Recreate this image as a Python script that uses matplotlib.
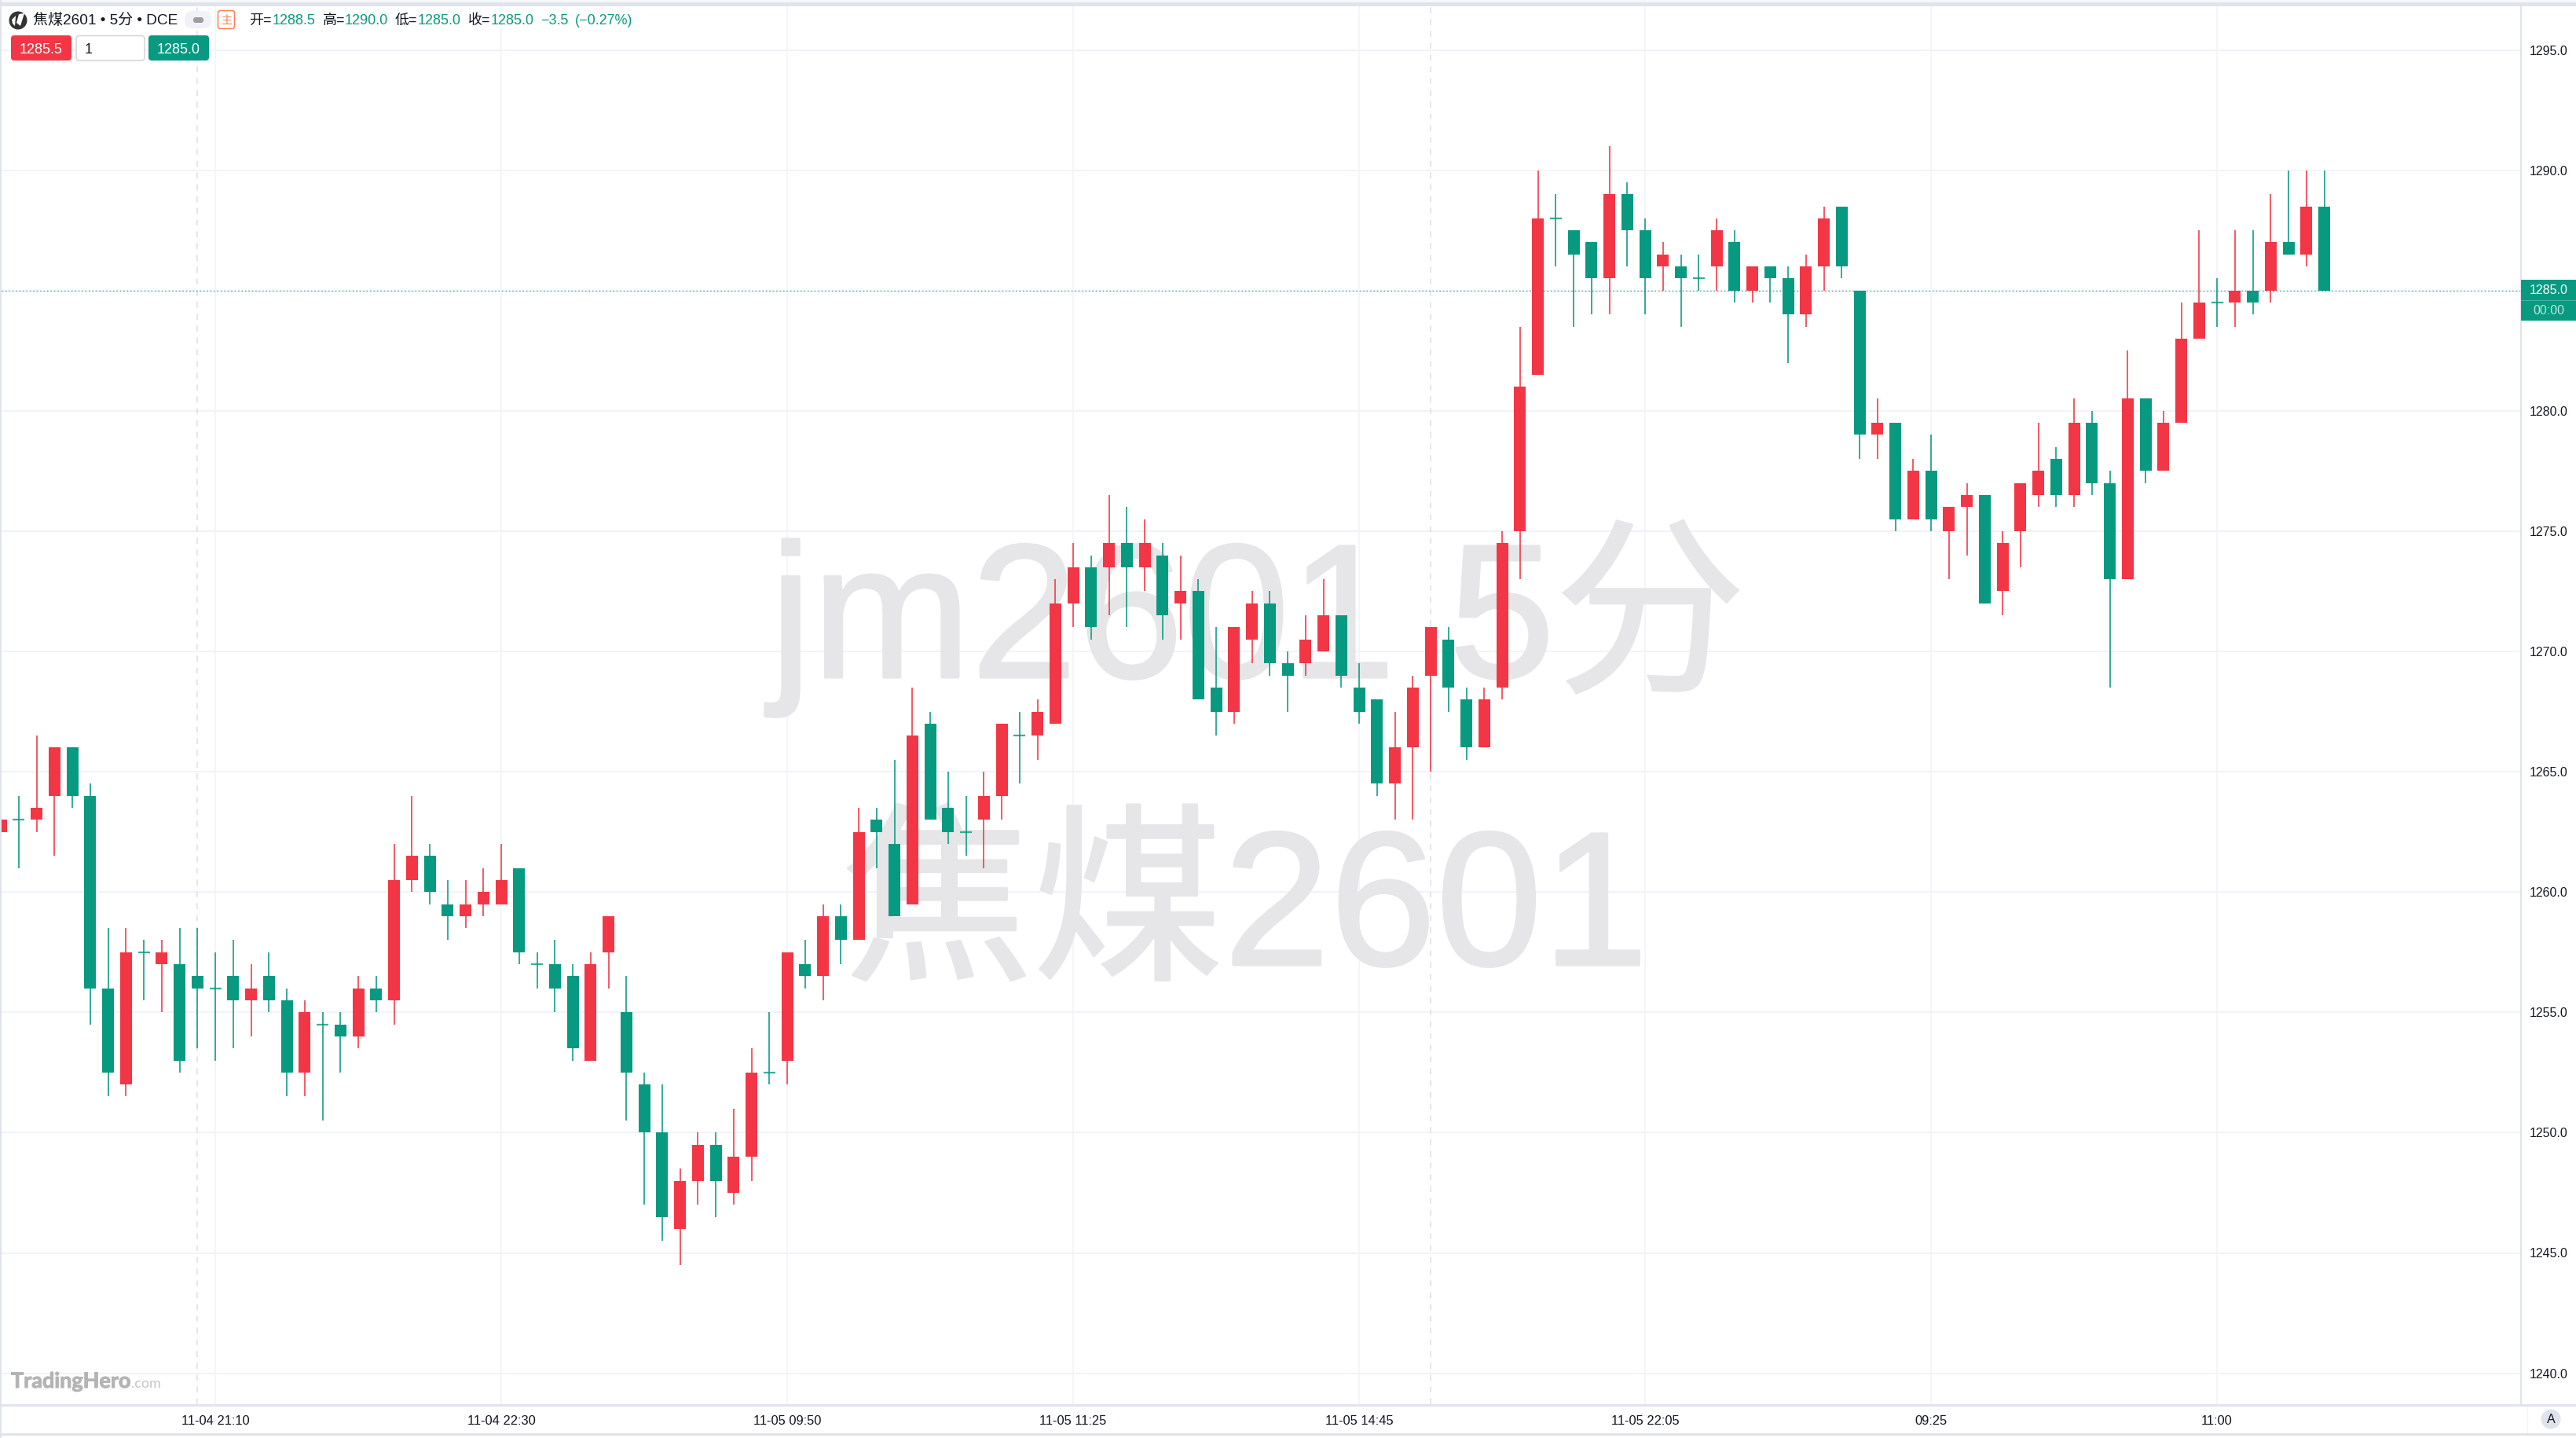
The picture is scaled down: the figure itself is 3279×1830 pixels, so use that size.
import matplotlib
matplotlib.use("Agg")
import matplotlib.pyplot as plt
import matplotlib.patheffects as pe
from matplotlib.patches import FancyBboxPatch, Rectangle, Circle, Polygon

W, H = 3279, 1830
DPI = 100
PT = 72 / DPI
RED = "#F23645"
GREEN = "#089981"
GRID = "#F0F3FA"
BORDER = "#E0E3EB"
TEXT = "#131722"
WM = "#E6E6E8"
FONTS = ["Liberation Sans", "Noto Sans CJK SC", "DejaVu Sans"]
plt.rcParams["font.family"] = FONTS
plt.rcParams["axes.unicode_minus"] = False

opens = [1262.5,1263,1263,1264,1266,1264,1256,1252,1257.5,1257,1257,1256.5,1256,1256.5,1255.5,1256.5,1255.5,1252.5,1254.5,1254.5,
         1254,1256,1255.5,1260.5,1261.5,1259.5,1259,1259.5,1259.5,1261,1257,1257,1256.5,1253,1257.5,1255,1252,1250,1246,1248,
         1249.5,1247.5,1249,1252.5,1253,1257,1256.5,1259,1258,1263,1262,1259.5,1267,1263.5,1262.5,1263,1264,1266.5,1266.5,1267,
         1272,1273.5,1273.5,1274.5,1273.5,1274,1272,1272.5,1268.5,1267.5,1270.5,1272,1269.5,1269.5,1270,1271.5,1268.5,1268,1264.5,1266,
         1269,1270.5,1268,1266,1268.5,1275,1281.5,1288,1287.5,1287,1285.5,1289,1287.5,1286,1286,1285.5,1286,1287,1285,1286,
         1285.5,1284,1286,1288.5,1285,1279,1279.5,1275.5,1277.5,1275,1276,1276.5,1272.5,1275,1276.5,1278,1276.5,1279.5,1277,1273,
         1280.5,1277.5,1279.5,1283,1284.5,1284.5,1285,1285,1287,1286.5,1288.5]
highs = [1263,1264,1266.5,1266,1266,1264.5,1258.5,1258.5,1258,1258,1258.5,1258.5,1257.5,1258,1257,1257.5,1256,1255.5,1255,1255,
         1256.5,1256.5,1262,1264,1262,1260.5,1260.5,1261,1262,1261,1257.5,1258,1257,1257.5,1259,1256.5,1252.5,1252,1248.5,1250,
         1250,1251,1253.5,1255,1257.5,1258,1259.5,1259.5,1263.5,1263.5,1265.5,1268.5,1267.5,1265,1264,1265,1267,1267.5,1268,1273,
         1274.5,1274,1276.5,1276,1275.5,1274.5,1274,1273,1271,1271,1272.5,1272.5,1270,1271.5,1273,1271.5,1269.5,1268,1267.5,1269,
         1271,1271,1268.5,1268.5,1275,1283.5,1290,1289,1287.5,1287,1291,1289.5,1288,1287,1286.5,1286.5,1288,1287.5,1286,1286,
         1286,1286.5,1288.5,1288.5,1285,1280.5,1279.5,1278,1279,1276,1277,1276.5,1275,1277,1279.5,1278.5,1280.5,1280,1277.5,1282.5,
         1280.5,1280,1284.5,1287.5,1285.5,1287.5,1287.5,1289,1290,1290,1290]
lows = [1262.5,1261,1262.5,1261.5,1263.5,1254.5,1251.5,1251.5,1255.5,1255,1252.5,1253.5,1253,1253.5,1254,1255,1251.5,1251.5,1250.5,1252.5,
        1253.5,1255,1254.5,1260,1259.5,1258,1258.5,1259,1259.5,1257,1256,1255,1253,1253,1256,1250.5,1247,1245.5,1244.5,1247,
        1246.5,1247,1248,1252,1252,1256,1255.5,1257,1258,1261,1259,1259.5,1263,1262,1261.5,1261,1263,1264.5,1265.5,1267,
        1271,1270.5,1271.5,1271,1272.5,1270.5,1270.5,1268,1266.5,1267,1269.5,1269,1267.5,1269,1270,1268.5,1267,1264,1263,1263,
        1265,1267.5,1265.5,1266,1268,1273,1281.5,1286,1283.5,1284,1284,1286,1284,1285,1283.5,1285,1285,1284.5,1284.5,1284.5,
        1282,1283.5,1285,1285.5,1278,1278,1275,1275.5,1275,1273,1274,1272,1271.5,1273.5,1276,1276,1276,1276.5,1268.5,1273,
        1277,1277.5,1279.5,1283,1283.5,1283.5,1284,1284.5,1286.5,1286,1285]
closes = [1263,1263,1263.5,1266,1264,1256,1252.5,1257.5,1257.5,1257.5,1253,1256,1256,1255.5,1256,1255.5,1252.5,1255,1254.5,1254,
          1256,1255.5,1260.5,1261.5,1260,1259,1259.5,1260,1260.5,1257.5,1257,1256,1253.5,1257,1259,1252.5,1250,1246.5,1248,1249.5,
          1248,1249,1252.5,1252.5,1257.5,1256.5,1259,1258,1262.5,1262.5,1259,1266.5,1263,1262.5,1262.5,1264,1267,1266.5,1267.5,1272,
          1273.5,1271,1274.5,1273.5,1274.5,1271.5,1272.5,1268,1267.5,1271,1272,1269.5,1269,1270.5,1271.5,1269,1267.5,1264.5,1266,1268.5,
          1271,1268.5,1266,1268,1274.5,1281,1288,1288,1286.5,1285.5,1289,1287.5,1285.5,1286.5,1285.5,1285.5,1287.5,1285,1286,1285.5,
          1284,1286,1288,1286,1279,1279.5,1275.5,1277.5,1275.5,1276,1276.5,1272,1274.5,1277,1277.5,1276.5,1279.5,1277,1273,1280.5,
          1277.5,1279.5,1283,1284.5,1284.5,1285,1284.5,1287,1286.5,1288.5,1285]

tick_index = [12, 28, 44, 60, 76, 92, 108, 124]
tick_labels = ["11-04 21:10", "11-04 22:30", "11-05 09:50", "11-05 11:25",
               "11-05 14:45", "11-05 22:05", "09:25", "11:00"]
session_index = [11, 80]
price_ticks = [1240, 1245, 1250, 1255, 1260, 1265, 1270, 1275, 1280, 1285, 1290, 1295]
last_price = 1285.0
ask_price, bid_price = 1285.5, 1285.0
quantity = 1
symbol = "焦煤2601 • 5分 • DCE"
ohlc_labels = ["开=", "高=", "低=", "收="]
change, change_pct = -3.5, -0.27

# pixel layout
X0, BAR_STEP, BAR_W = 1.0, 22.75, 15.0
LEFT, RIGHT, TOP, BOTTOM = 2, 3208, 7, 1787
Y_1290, PX_PER_PT = 216.6, 30.62


def px(size):
    return size * PT


fig = plt.figure(figsize=(W / DPI, H / DPI), dpi=DPI, facecolor="white")

ax = fig.add_axes([LEFT / W, (H - BOTTOM) / H, (RIGHT - LEFT) / W, (BOTTOM - TOP) / H], zorder=1)
ax.set_facecolor("white")
ax.set_xlim((LEFT - X0) / BAR_STEP, (RIGHT - X0) / BAR_STEP)
ax.set_ylim(1290 - (BOTTOM - Y_1290) / PX_PER_PT, 1290 - (TOP - Y_1290) / PX_PER_PT)

chrome = fig.add_axes([0, 0, 1, 1], zorder=2)
chrome.set_xlim(0, W)
chrome.set_ylim(H, 0)
chrome.axis("off")
chrome.patch.set_alpha(0)

# grid
ax.hlines(price_ticks, *ax.get_xlim(), color=GRID, lw=px(2), zorder=1)
ax.vlines(tick_index, *ax.get_ylim(), color=GRID, lw=px(1.5), zorder=1)
ax.vlines(session_index, *ax.get_ylim(), color="#DDDFE6", lw=px(1.5), linestyles=(0, (5, 5)), zorder=1)

# watermark
for txt, x, y in (("jm2601 5分", 1601, 862), ("焦煤2601", 1585, 1228)):
    ax.text(x, y, txt, transform=chrome.transData, ha="center", va="baseline",
            fontsize=px(243), color=WM, zorder=2,
            path_effects=[pe.withStroke(linewidth=px(3), foreground=WM)])

# candles
idx = list(range(len(opens)))
colors = [RED if c > o else GREEN for o, c in zip(opens, closes)]
ax.vlines(idx, lows, highs, colors=colors, lw=px(1.6), zorder=3)
for i, o, c, col in zip(idx, opens, closes, colors):
    if o == c:
        ax.hlines(o, i - BAR_W / BAR_STEP / 2, i + BAR_W / BAR_STEP / 2, color=col, lw=px(2.2), alpha=.8, zorder=3)
ax.bar(idx, [abs(c - o) for o, c in zip(opens, closes)], bottom=[min(o, c) for o, c in zip(opens, closes)],
       width=BAR_W / BAR_STEP, color=colors, linewidth=0, zorder=4)

# last price line
ax.axhline(last_price, color=GREEN, lw=px(1.3), linestyle=(0, (1.2, 2.2)), alpha=.8, zorder=3.5)

# axes
for s in ax.spines.values():
    s.set_visible(False)
ax.yaxis.tick_right()
ax.set_yticks(price_ticks, [f"{p:.1f}" for p in price_ticks])
ax.set_xticks(tick_index, tick_labels)
ax.tick_params(axis="y", length=0, pad=px(12), labelsize=px(16), labelcolor=TEXT)
ax.tick_params(axis="x", length=0, pad=px(14), labelsize=px(16.5), labelcolor=TEXT)

# chrome: borders
chrome.add_patch(Rectangle((0, 3), W, 4.5, fc=BORDER, lw=0))
chrome.add_patch(Rectangle((0, 0), W, 3, fc="#F7F8FA", lw=0))
chrome.add_patch(Rectangle((0, 0), 2, H, fc=BORDER, lw=0))
chrome.add_patch(Rectangle((RIGHT, 7), 2, BOTTOM - 7, fc=BORDER, lw=0))
chrome.add_patch(Rectangle((0, BOTTOM), W, 2.5, fc=BORDER, lw=0))
chrome.add_patch(Rectangle((0, 1824), W, 2.5, fc=BORDER, lw=0))
chrome.add_patch(Rectangle((3217, 1790), 1, 34, fc="#F3F4F8", lw=0))
chrome.add_patch(Circle((3247, 1806), 12.5, fc=BORDER, lw=0))
chrome.text(3247, 1806.5, "A", ha="center", va="center", fontsize=px(16), color=TEXT)

# chrome: price tag
chrome.add_patch(Rectangle((3209, 356), 70, 52, fc=GREEN, lw=0))
chrome.add_patch(Rectangle((3209, 381.5), 70, 1.2, fc="#46B3A1", lw=0))
chrome.text(3244, 369.5, f"{last_price:.1f}", ha="center", va="center", fontsize=px(16), color="white")
chrome.text(3244, 395.5, "00:00", ha="center", va="center", fontsize=px(16), color="#BFE5DF")


def box(x0, y0, x1, y1, fc, ec="none", lw=0, r=4):
    chrome.add_patch(FancyBboxPatch((x0 + r, y0 + r), x1 - x0 - 2 * r, y1 - y0 - 2 * r,
                                    boxstyle=f"round,pad={r},rounding_size={r}", fc=fc, ec=ec, lw=lw))


# chrome: header
chrome.add_patch(Circle((23, 26), 11.5, fc="#333333", lw=0))
chrome.add_patch(Polygon([[24, 18], [31, 17], [26, 33], [21, 29]], fc="white", lw=0))
chrome.add_patch(Polygon([[15, 25], [20, 20], [19, 33], [16, 30]], fc="white", lw=0))
chrome.text(42, 26.5, symbol, ha="left", va="center", fontsize=px(19), color=TEXT)
box(235, 14, 269, 36, "#F0F1F9", r=10)
box(246, 22, 259, 29, "#9E9E9E", r=3)
box(277.5, 13.5, 298.5, 36.5, "white", ec="#FF7D50", lw=px(1.5), r=3)
chrome.text(288, 26, "主", ha="center", va="center", fontsize=px(14), color="#FF7D50")

ohlc_values = [opens[-1], highs[-1], lows[-1], closes[-1]]
label_x = [317.5, 411, 503, 596]
value_x = [347, 439, 531.5, 624.5]
for lab, val, lx, vx in zip(ohlc_labels, ohlc_values, label_x, value_x):
    chrome.text(lx, 26.5, lab, ha="left", va="center", fontsize=px(18), color=TEXT)
    chrome.text(vx, 26.5, f"{val:.1f}", ha="left", va="center", fontsize=px(18), color=GREEN)
chrome.text(688, 26.5, f"{change:.1f}".replace("-", "−"), ha="left", va="center", fontsize=px(18), color=GREEN)
chrome.text(732, 26.5, f"({change_pct:.2f}%)".replace("-", "−"), ha="left", va="center", fontsize=px(18), color=GREEN)

box(14, 45, 91, 77, RED)
chrome.text(52.5, 63, f"{ask_price:.1f}", ha="center", va="center", fontsize=px(18), color="white")
box(97, 45.5, 184, 77, "white", ec="#D1D4DC", lw=px(1.5))
chrome.text(108, 63, str(quantity), ha="left", va="center", fontsize=px(18), color=TEXT)
box(189, 45, 266, 77, GREEN)
chrome.text(227.5, 63, f"{bid_price:.1f}", ha="center", va="center", fontsize=px(18), color="white")

# chrome: logo
chrome.text(14, 1766, "TradingHero", ha="left", va="baseline", fontsize=px(27), color="#B4B4B4",
            family="Lato", fontweight="bold",
            path_effects=[pe.withStroke(linewidth=px(1), foreground="#B4B4B4")])
chrome.text(167, 1766, ".com", ha="left", va="baseline", fontsize=px(18), color="#C4C4C4", family="Lato")

fig.savefig("out.png", dpi=DPI, facecolor="white")
